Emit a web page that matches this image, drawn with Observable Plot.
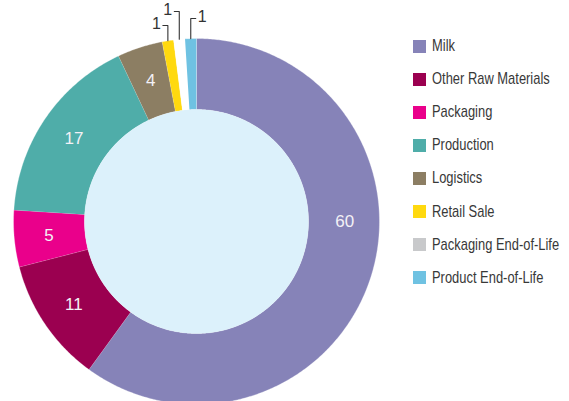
<!DOCTYPE html>
<html>
<head>
<meta charset="utf-8">
<script src="https://cdn.jsdelivr.net/npm/d3@7"></script>
<script src="https://cdn.jsdelivr.net/npm/@observablehq/plot@0.6"></script>
<style>
  html, body { margin: 0; padding: 0; background: #fff; }
  #wrap { position: relative; width: 569px; height: 401px; overflow: hidden;
    font-family: "Liberation Sans", Arial, sans-serif; }
  #chart { position: absolute; left: 0; top: 0; }
  #legend { position: absolute; left: 413px; top: 29.5px; }
  .item { display: flex; align-items: center; height: 33.1px; font-size: 17px; color: #383838; white-space: nowrap; }
  .sw { width: 13px; height: 13px; margin-right: 6px; flex: none; }
  .tx { display: inline-block; transform: scaleX(0.76); transform-origin: 0 50%; }
</style>
</head>
<body>
<div id="wrap"><div id="chart"></div><div id="legend"></div></div>
<script>
// ---- data ----
const categories = ["Milk", "Other Raw Materials", "Packaging", "Production", "Logistics", "Retail Sale", "Packaging End-of-Life", "Product End-of-Life"];
const values = [60, 11, 5, 17, 4, 1, 1, 1];
const labels = ["60", "11", "5", "17", "4", "1", "1", "1"];
const legendColors = ["#8683b8", "#9b0050", "#ea008b", "#4fada9", "#8c7e63", "#ffd90f", "#c8c9cb", "#6fc2e2"];
const sliceColors = ["#8683b8", "#9b0050", "#ea008b", "#4fada9", "#8c7e63", "#ffd90f", "#ffffff", "#6fc2e2"];
const centerColor = "#dcf1fb";

// ---- layout ----
const W = 400, H = 401, CX = 196, CY = 221, R = 183, RIN = 112;
const inner = RIN / R;
const xDomain = [-CX / R, (W - CX) / R];
const yDomain = [-(H - CY) / R, CY / R];
const pxY = (p) => (CY - p) / R; // pixel y -> data y

const arcs = d3.pie().sort(null).value((d) => d.value)(categories.map((c, i) => ({cat: c, value: values[i], i})));

const polys = [];
arcs.forEach((a) => {
  const n = Math.max(4, Math.ceil((a.endAngle - a.startAngle) / (Math.PI / 360)));
  for (let k = 0; k <= n; k++) {
    const t = a.startAngle + (a.endAngle - a.startAngle) * k / n;
    polys.push({cat: a.data.cat, x: Math.sin(t), y: Math.cos(t)});
  }
  for (let k = n; k >= 0; k--) {
    const t = a.startAngle + (a.endAngle - a.startAngle) * k / n;
    polys.push({cat: a.data.cat, x: inner * Math.sin(t), y: inner * Math.cos(t)});
  }
});
const disk = d3.range(0, 721).map((k) => ({x: inner * Math.sin(k * Math.PI / 360), y: inner * Math.cos(k * Math.PI / 360)}));

// labels inside slices (values > 1)
const mid = (a) => (a.startAngle + a.endAngle) / 2;
const inLabels = arcs.filter((a) => a.data.value > 1).map((a) => {
  const t = a.index === 0 ? Math.PI / 2 : mid(a);
  const rr = 0.81;
  return {x: rr * Math.sin(t), y: rr * Math.cos(t), text: labels[a.index]};
});

// leader lines for small slices
const small = arcs.filter((a) => a.data.value <= 1);
const leaderTop = [25, 11, 18];     // pixel height where leader turns
const leaderDir = [-1, -1, 1];      // horizontal direction
const leaders = [];
const leaderText = [];
small.forEach((a, j) => {
  const t = mid(a);
  const x0 = Math.sin(t), y0 = Math.cos(t);
  const yt = pxY(leaderTop[j]);
  const x1 = x0 + leaderDir[j] * 5 / R;
  leaders.push({id: j, x: x0, y: y0}, {id: j, x: x0, y: yt}, {id: j, x: x1, y: yt});
  leaderText.push({x: x1 + leaderDir[j] * 2 / R, y: yt + 2 / R, text: labels[a.index], anchor: leaderDir[j] < 0 ? "end" : "start"});
});

const plot = Plot.plot({
  width: W, height: H,
  marginTop: 0, marginRight: 0, marginBottom: 0, marginLeft: 0,
  x: {domain: xDomain, axis: null},
  y: {domain: yDomain, axis: null},
  color: {domain: categories, range: sliceColors},
  style: {background: "transparent", fontFamily: "'Liberation Sans', Arial, sans-serif", overflow: "visible"},
  marks: [
    Plot.line(polys, {x: "x", y: "y", z: "cat", fill: "cat", stroke: "#ffffff", strokeWidth: 0.5, strokeOpacity: 0.6}),
    Plot.line(disk, {x: "x", y: "y", fill: centerColor, stroke: "none"}),
    Plot.text(inLabels, {x: "x", y: "y", text: "text", fill: "#f3f1f6", fontSize: 17}),
    Plot.line(leaders, {x: "x", y: "y", z: "id", stroke: "#333", strokeWidth: 1.1}),
    Plot.text(leaderText.filter(d => d.anchor === "end"), {x: "x", y: "y", text: "text", fill: "#333", fontSize: 16, textAnchor: "end"}),
    Plot.text(leaderText.filter(d => d.anchor === "start"), {x: "x", y: "y", text: "text", fill: "#333", fontSize: 16, textAnchor: "start"})
  ]
});
document.getElementById("chart").appendChild(plot);

// legend
const leg = document.getElementById("legend");
categories.forEach((c, i) => {
  const row = document.createElement("div");
  row.className = "item";
  const sw = document.createElement("span");
  sw.className = "sw";
  sw.style.background = legendColors[i];
  const tx = document.createElement("span");
  tx.className = "tx";
  tx.textContent = c;
  row.appendChild(sw); row.appendChild(tx);
  leg.appendChild(row);
});
</script>
</body>
</html>
